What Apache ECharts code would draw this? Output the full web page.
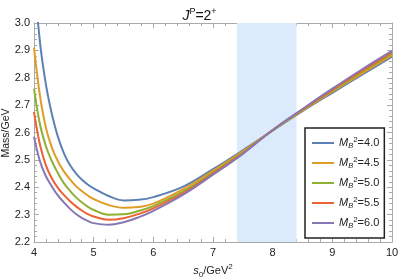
<!DOCTYPE html>
<html>
<head>
<meta charset="utf-8">
<script src="https://cdn.jsdelivr.net/npm/echarts@6/dist/echarts.min.js"></script>
<style>html,body{margin:0;padding:0;background:#fff}#c{width:399px;height:279px}</style>
</head>
<body>
<div id="c"></div>
<script>
// s0 values (GeV^2)
var s0 = [4.0, 4.1, 4.2, 4.3, 4.4, 4.5, 4.6, 4.7, 4.8, 4.9, 5.0, 5.25, 5.5, 5.75, 6.0, 6.5, 7.0, 7.5, 8.0, 8.5, 9.0, 9.5, 10.0];
// Mass (GeV) for each M_B^2
var massMB40 = [3.18, 2.93, 2.775, 2.667, 2.585, 2.525, 2.482, 2.452, 2.428, 2.41, 2.396, 2.368, 2.352, 2.354, 2.364, 2.402, 2.466, 2.535, 2.607, 2.678, 2.745, 2.811, 2.877];
var massMB45 = [2.91, 2.735, 2.617, 2.545, 2.495, 2.458, 2.43, 2.405, 2.386, 2.37, 2.357, 2.335, 2.325, 2.328, 2.34, 2.393, 2.46, 2.531, 2.608, 2.68, 2.749, 2.816, 2.883];
var massMB50 = [2.76, 2.63, 2.55, 2.495, 2.452, 2.415, 2.388, 2.364, 2.345, 2.329, 2.317, 2.30, 2.301, 2.313, 2.331, 2.385, 2.454, 2.527, 2.608, 2.682, 2.752, 2.821, 2.888];
var massMB55 = [2.675, 2.555, 2.48, 2.432, 2.398, 2.372, 2.35, 2.331, 2.315, 2.302, 2.293, 2.281, 2.287, 2.302, 2.323, 2.379, 2.45, 2.524, 2.609, 2.684, 2.756, 2.826, 2.893];
var massMB60 = [2.585, 2.495, 2.44, 2.403, 2.37, 2.345, 2.322, 2.303, 2.288, 2.277, 2.269, 2.263, 2.272, 2.29, 2.314, 2.373, 2.446, 2.522, 2.609, 2.686, 2.76, 2.831, 2.898];
var mbLabels = ['4.0', '4.5', '5.0', '5.5', '6.0'];
var bandRange = [7.4, 8.4];
var xTicks = [4, 5, 6, 7, 8, 9, 10];
var yTicks = [2.2, 2.3, 2.4, 2.5, 2.6, 2.7, 2.8, 2.9, 3.0];

var colors = ['#5E81B5', '#E19C24', '#8FB032', '#EB6235', '#8778B3'];
var allMass = [massMB40, massMB45, massMB50, massMB55, massMB60];
var FONT = '"Liberation Sans", Arial, sans-serif';
var frameColor = '#aaaaaa';

function pairs(ys) { return s0.map(function (x, i) { return [x, ys[i]]; }); }

var series = [{
  type: 'line', name: '__band', data: [], silent: true, z: 1,
  markArea: { silent: true, itemStyle: { color: '#dcebfb', opacity: 1 },
    data: [[{ xAxis: bandRange[0] }, { xAxis: bandRange[1] }]] }
}];
allMass.forEach(function (ys, k) {
  series.push({
    type: 'line', name: mbLabels[k], data: pairs(ys), smooth: 0.4,
    symbol: 'none', showSymbol: false, clip: true, z: 3,
    lineStyle: { color: colors[k], width: 2 }, itemStyle: { color: colors[k] }
  });
});

function axisCommon(showLabel) {
  return {
    axisLine: { show: true, lineStyle: { color: frameColor, width: 1 } },
    axisTick: { show: true, inside: true, length: 5, lineStyle: { color: frameColor } },
    minorTick: { show: true, splitNumber: 5, length: 3, lineStyle: { color: frameColor } },
    splitLine: { show: false },
    axisLabel: { show: showLabel, color: '#222', fontSize: 11, fontFamily: FONT }
  };
}

var xBottom = Object.assign(axisCommon(true), {
  type: 'value', min: xTicks[0], max: xTicks[xTicks.length - 1], interval: 1, position: 'bottom',
  name: '{i|s}{sub|0}{n|/GeV}{sup|2}', nameLocation: 'middle', nameGap: 21,
  nameTextStyle: { rich: {
    i: { fontStyle: 'italic', fontSize: 11, fontFamily: FONT, color: '#222', lineHeight: 16, verticalAlign: 'middle' },
    n: { fontSize: 11, fontFamily: FONT, color: '#222', lineHeight: 16, verticalAlign: 'middle' },
    sub: { fontSize: 8, fontFamily: FONT, color: '#222', lineHeight: 16, verticalAlign: 'bottom', padding: [6, 0, 0, 0] },
    sup: { fontSize: 8, fontFamily: FONT, color: '#222', lineHeight: 16, verticalAlign: 'top', padding: [0, 0, 6, 0] }
  } }
});
xBottom.axisLabel.margin = 5;
var xTop = Object.assign(axisCommon(false), { type: 'value', min: 4, max: 10, interval: 1, position: 'top' });
var yLeft = Object.assign(axisCommon(true), {
  type: 'value', min: yTicks[0], max: yTicks[yTicks.length - 1], interval: 0.1, position: 'left'
});
yLeft.axisLabel.margin = 4;
yLeft.axisLabel.formatter = function (v) { return v.toFixed(1); };
var yRight = Object.assign(axisCommon(false), { type: 'value', min: 2.2, max: 3.0, interval: 0.1, position: 'right' });

var legRich = {
  i: { fontStyle: 'italic', fontSize: 11, fontFamily: FONT, color: '#222', lineHeight: 14, verticalAlign: 'middle' },
  n: { fontSize: 11, fontFamily: FONT, color: '#222', lineHeight: 14, verticalAlign: 'middle' },
  sub: { fontStyle: 'italic', fontSize: 7.5, fontFamily: FONT, color: '#222', lineHeight: 14, verticalAlign: 'bottom', padding: [5, 0, 0, 0] },
  sup: { fontSize: 8, fontFamily: FONT, color: '#222', lineHeight: 14, verticalAlign: 'top', padding: [0, 0, 5, 0] }
};

var chart = echarts.init(document.getElementById('c'), null, { renderer: 'canvas' });
chart.setOption({
  animation: false,
  backgroundColor: '#fff',
  title: {
    text: '{i|J}{sup|P}{n|=2}{sup|+}', left: 'center', top: 2,
    textStyle: { fontWeight: 'normal', rich: {
      i: { fontStyle: 'italic', fontWeight: 'normal', fontSize: 14, fontFamily: FONT, color: '#111', lineHeight: 18, verticalAlign: 'middle' },
      n: { fontWeight: 'normal', fontSize: 14, fontFamily: FONT, color: '#111', lineHeight: 18, verticalAlign: 'middle' },
      sup: { fontWeight: 'normal', fontSize: 9, fontFamily: FONT, color: '#111', lineHeight: 18, verticalAlign: 'top', padding: [0, 0, 7, 0] }
    } }
  },
  graphic: [{
    type: 'text', x: 6, y: 133, rotation: Math.PI / 2, z: 10,
    style: { text: 'Mass/GeV', fill: '#222', font: '10.5px ' + FONT, align: 'center', verticalAlign: 'middle' }
  }],
  grid: { left: 34, right: 7, top: 23, bottom: 37, containLabel: false, outerBoundsMode: 'none' },
  xAxis: [xBottom, xTop],
  yAxis: [yLeft, yRight],
  legend: {
    orient: 'vertical', left: 305, top: 128,
    data: mbLabels, itemWidth: 22, itemHeight: 14, itemGap: 6,
    padding: [8, 5, 8, 7], borderColor: '#222', borderWidth: 1.5, backgroundColor: '#fff',
    icon: 'path://M0,6 L22,6 L22,8 L0,8 Z',
    textStyle: { rich: legRich },
    formatter: function (name) { return '{i|M}{sub|B}{sup|2}{n|=' + name + '}'; }
  },
  series: series
});
</script>
</body>
</html>
